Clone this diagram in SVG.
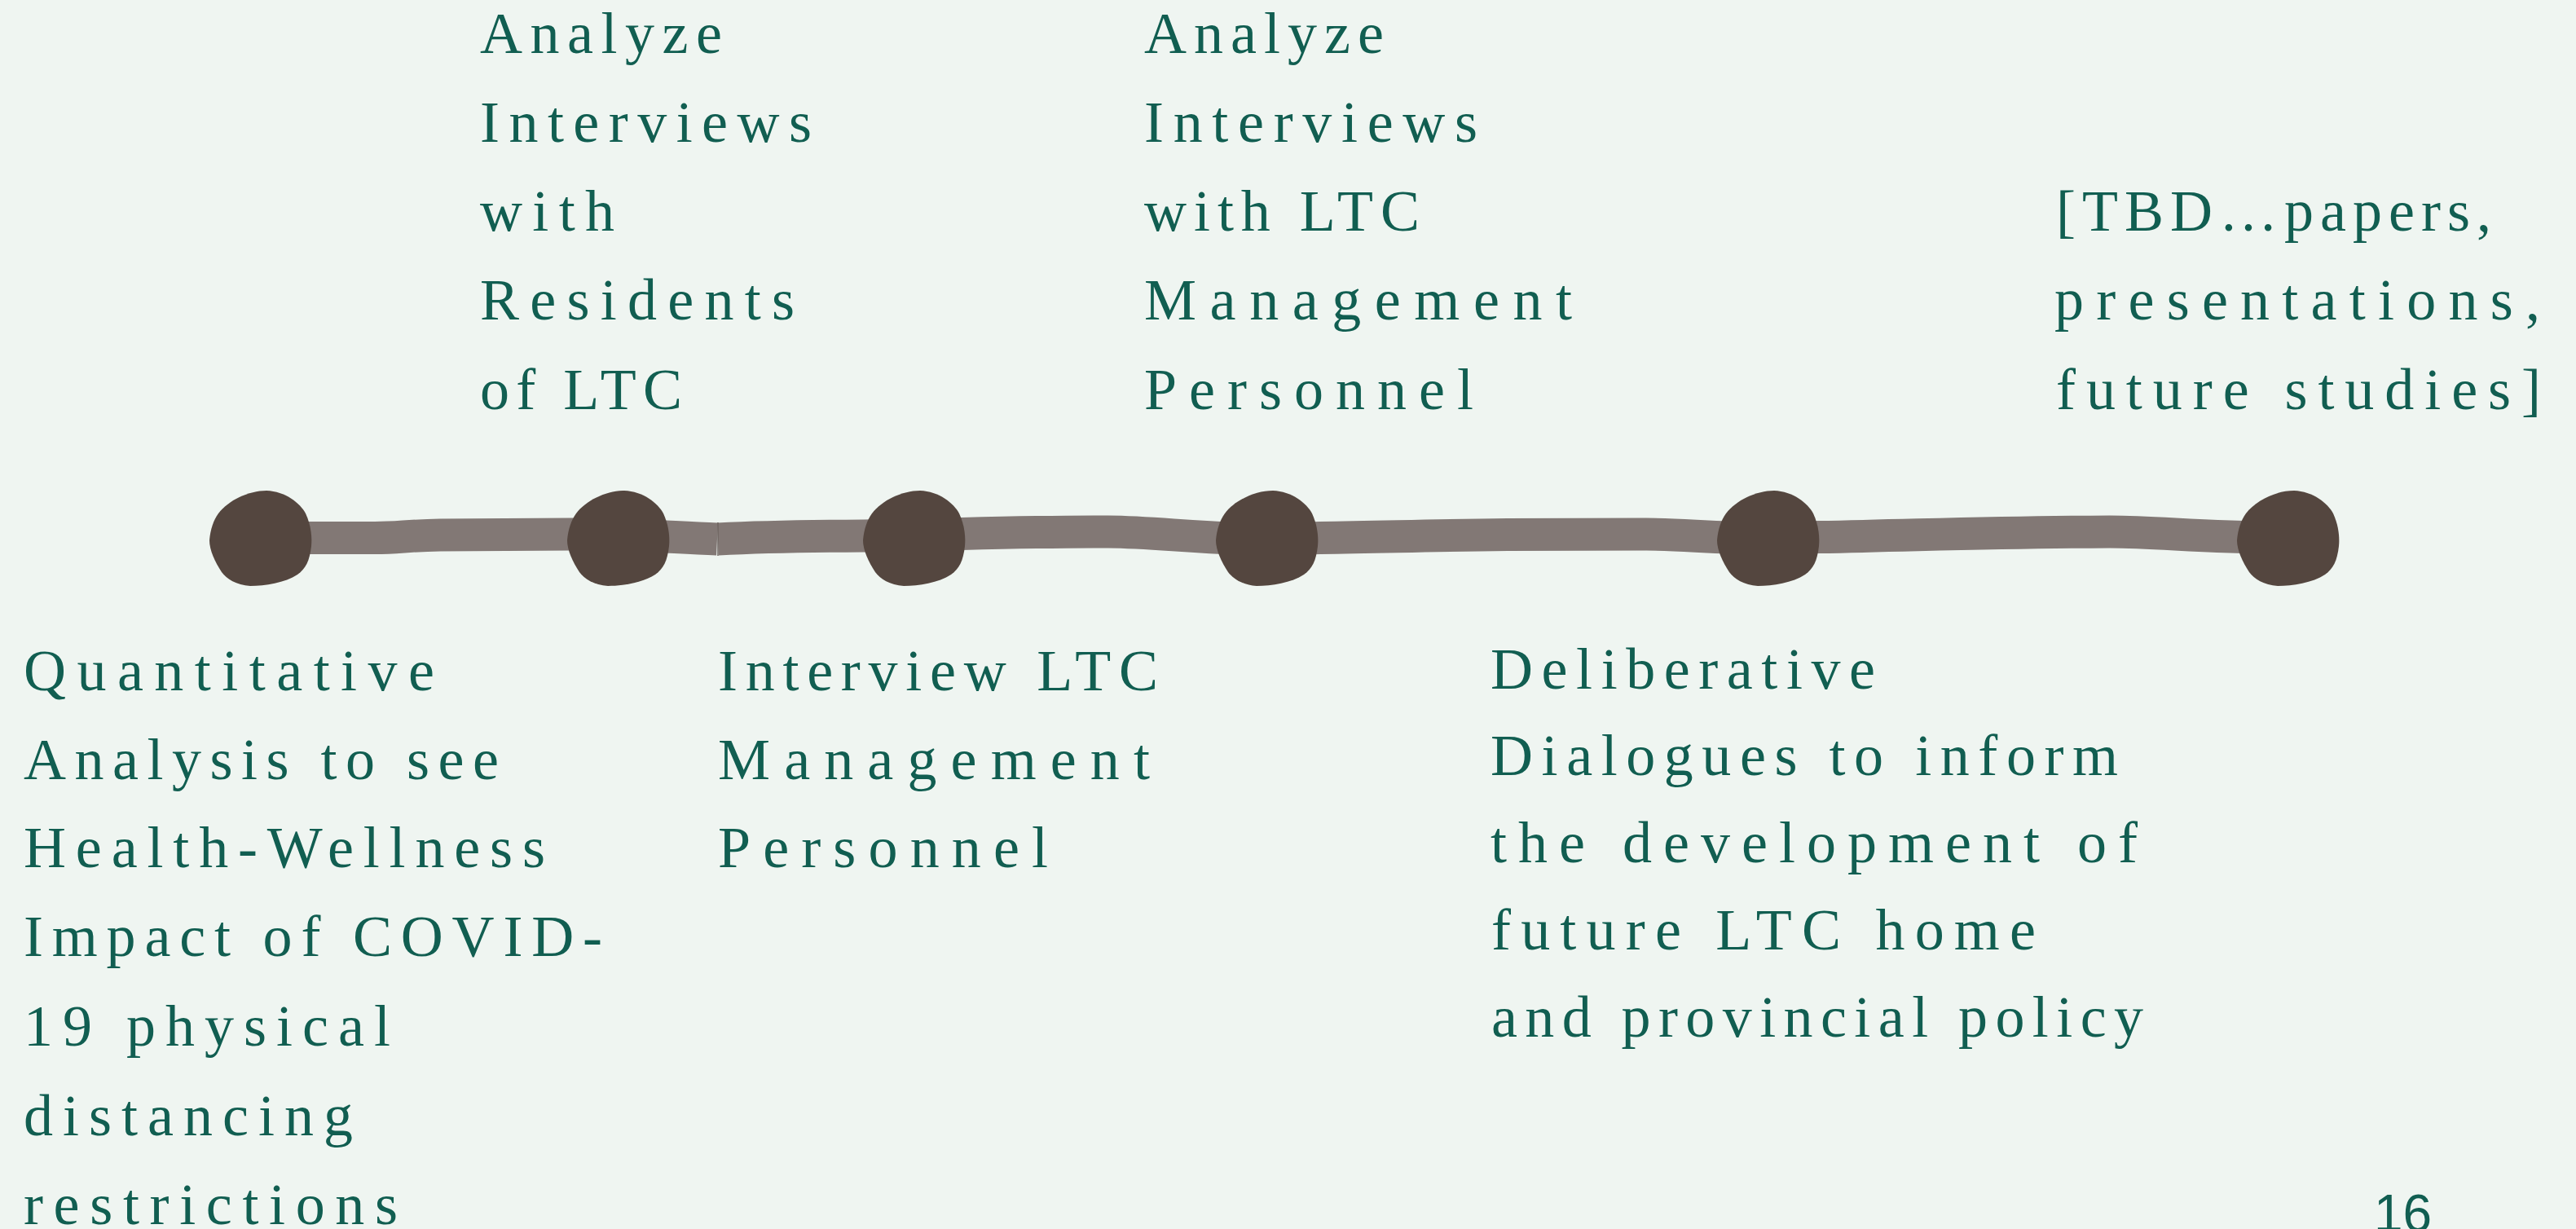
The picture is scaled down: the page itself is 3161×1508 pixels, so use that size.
<svg xmlns="http://www.w3.org/2000/svg" width="3161" height="1508" viewBox="0 0 3161 1508">
<defs>
<style>
.t{font-family:"Liberation Serif","Times New Roman",serif;font-size:72px;fill:#115E51}
.pg{font-family:"Liberation Sans",Arial,sans-serif;font-size:64px;fill:#115E51}
.ln{fill:none;stroke:#827875;stroke-width:40;stroke-linecap:butt;stroke-linejoin:round}
.nd{fill:#54463F}
</style>
<path id="blob" d="M7,-58 C30,-57 48,-43 55,-30 C62,-15 63,0 62,10 C60,28 55,38 45,45 C30,55 5,59 -13,59 C-30,58 -42,50 -48,42 C-56,30 -63,15 -63,3 C-62,-10 -58,-22 -52,-30 C-40,-46 -15,-58 7,-58 Z"/>
</defs>
<rect width="3161" height="1508" fill="#EFF5F1"/>
<g id="connectors">
<path class="ln" d="M330,660 L460,660 C490,660 500,657 540,656.5 L700,655.5 C760,655 800,658 880,661.5"/>
<path class="ln" d="M881,661.5 C930,659 960,658 1060,657.5 L1180,655 C1260,653 1300,652 1360,652.5 C1420,653 1460,660 1554,662 L1620,660 C1700,659 1750,657 1850,656 L2020,655.5 C2070,656 2100,660 2170,660.5 L2232,659 C2350,657 2450,653 2589,652.5 C2650,653 2700,659 2800,660"/>
<line x1="881" y1="641" x2="881" y2="682" stroke="#6E6461" stroke-width="1.5"/>
</g>
<g id="node1"><use href="#blob" class="nd" x="320" y="660"/></g>
<g id="node2"><use href="#blob" class="nd" x="759" y="660"/></g>
<g id="node3"><use href="#blob" class="nd" x="1122" y="660"/></g>
<g id="node4"><use href="#blob" class="nd" x="1555" y="660"/></g>
<g id="node5"><use href="#blob" class="nd" x="2170" y="660"/></g>
<g id="node6"><use href="#blob" class="nd" x="2808" y="660"/></g>
<g id="label-top1" class="t">
<text x="589" y="65" textLength="297" lengthAdjust="spacing">Analyze</text>
<text x="589" y="174" textLength="407" lengthAdjust="spacing">Interviews</text>
<text x="589" y="283" textLength="165" lengthAdjust="spacing">with</text>
<text x="589" y="392" textLength="386" lengthAdjust="spacing">Residents</text>
<text x="589" y="502" textLength="248" lengthAdjust="spacing">of LTC</text>
</g>
<g id="label-top2" class="t">
<text x="1404" y="65" textLength="294" lengthAdjust="spacing">Analyze</text>
<text x="1404" y="174" textLength="409" lengthAdjust="spacing">Interviews</text>
<text x="1404" y="283" textLength="338" lengthAdjust="spacing">with LTC</text>
<text x="1404" y="392" textLength="525" lengthAdjust="spacing">Management</text>
<text x="1404" y="502" textLength="404" lengthAdjust="spacing">Personnel</text>
</g>
<g id="label-top3" class="t">
<text x="2523" y="283" textLength="534" lengthAdjust="spacing">[TBD…papers,</text>
<text x="2521" y="392" textLength="596" lengthAdjust="spacing">presentations,</text>
<text x="2523" y="502" textLength="595" lengthAdjust="spacing">future studies]</text>
</g>
<g id="label-bottom1" class="t">
<text x="29" y="847" textLength="504" lengthAdjust="spacing">Quantitative</text>
<text x="29" y="956" textLength="583" lengthAdjust="spacing">Analysis to see</text>
<text x="29" y="1064" textLength="640" lengthAdjust="spacing">Health-Wellness</text>
<text x="29" y="1173" textLength="710" lengthAdjust="spacing">Impact of COVID-</text>
<text x="29" y="1283" textLength="450" lengthAdjust="spacing">19 physical</text>
<text x="29" y="1393" textLength="404" lengthAdjust="spacing">distancing</text>
<text x="29" y="1502" textLength="459" lengthAdjust="spacing">restrictions</text>
</g>
<g id="label-bottom2" class="t">
<text x="881" y="847" textLength="540" lengthAdjust="spacing">Interview LTC</text>
<text x="881" y="956" textLength="530" lengthAdjust="spacing">Management</text>
<text x="881" y="1064" textLength="405" lengthAdjust="spacing">Personnel</text>
</g>
<g id="label-bottom3" class="t">
<text x="1829" y="845" textLength="472" lengthAdjust="spacing">Deliberative</text>
<text x="1829" y="951" textLength="770" lengthAdjust="spacing">Dialogues to inform</text>
<text x="1829" y="1058" textLength="794" lengthAdjust="spacing">the development of</text>
<text x="1830" y="1165" textLength="668" lengthAdjust="spacing">future LTC home</text>
<text x="1830" y="1272" textLength="800" lengthAdjust="spacing">and provincial policy</text>
</g>
<text class="pg" x="2913" y="1511">16</text>
</svg>
